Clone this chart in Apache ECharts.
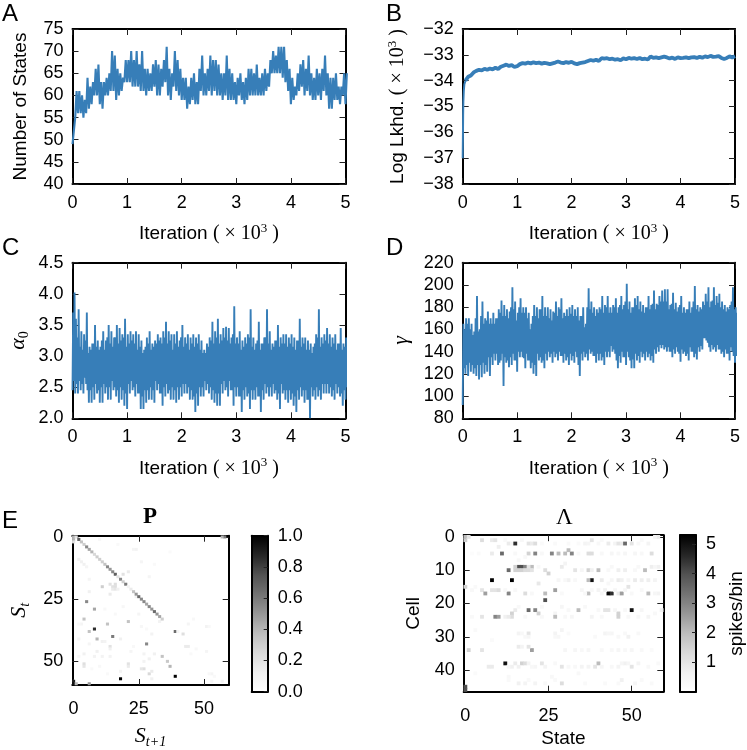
<!DOCTYPE html>
<html>
<head>
<meta charset="utf-8">
<style>
    html, body { margin: 0; padding: 0; background: #fff; }
    #chart { width: 747px; height: 750px; }
</style>
<script src="https://cdn.jsdelivr.net/npm/echarts@6/dist/echarts.min.js"></script>
</head>
<body>
<div id="chart"></div>
<script>
// traces are read as upper / lower edge of the band, one pair every 50 iterations
var traceStep = 0.05;

var statesHigh = [52,61,61,60,59,64,62,63,66,67,63,63,64,65,70,69,66,65,64,68,68,70,68,70,67,70,66,66,65,67,68,67,66,68,71,66,65,70,68,66,64,64,62,64,65,63,66,69,65,66,69,68,68,67,65,65,69,66,65,63,64,65,63,64,66,66,65,67,64,65,66,65,68,70,69,71,71,71,68,66,64,62,65,67,68,66,69,65,64,66,65,66,69,65,64,64,65,62,62,65,65];
var statesLow = [49,55,56,56,55,56,57,58,60,60,58,57,60,60,61,61,59,60,61,63,63,63,62,62,62,61,61,60,61,61,62,60,60,62,63,60,59,62,61,60,59,59,57,58,59,58,58,61,60,60,61,60,61,60,60,59,60,59,59,59,58,60,59,58,59,60,60,60,60,60,60,61,62,65,65,65,65,64,63,61,58,59,60,61,62,60,61,60,59,59,60,59,61,60,57,57,59,59,58,60,58];

var lkhdStartIter = [0, 0.004, 0.008, 0.012, 0.02, 0.03, 0.05];
var lkhdStart = [-37.0, -36.2, -35.3, -34.8, -34.4, -34.15, -34.0];
var lkhdTrace = [-34.0,-33.85,-33.8,-33.68,-33.62,-33.58,-33.6,-33.54,-33.58,-33.53,-33.56,-33.5,-33.55,-33.46,-33.42,-33.38,-33.43,-33.4,-33.47,-33.44,-33.36,-33.32,-33.34,-33.3,-33.33,-33.29,-33.32,-33.3,-33.34,-33.31,-33.33,-33.36,-33.33,-33.3,-33.26,-33.3,-33.32,-33.28,-33.31,-33.27,-33.33,-33.36,-33.32,-33.3,-33.28,-33.24,-33.2,-33.23,-33.19,-33.24,-33.13,-33.15,-33.13,-33.17,-33.15,-33.19,-33.17,-33.21,-33.14,-33.17,-33.12,-33.15,-33.13,-33.16,-33.12,-33.17,-33.15,-33.18,-33.06,-33.12,-33.1,-33.13,-33.1,-33.07,-33.1,-33.14,-33.11,-33.16,-33.1,-33.13,-33.12,-33.1,-33.13,-33.1,-33.09,-33.12,-33.08,-33.11,-33.06,-33.09,-33.04,-33.08,-33.07,-33.05,-33.12,-33.16,-33.12,-33.06,-33.1,-33.05];

// alpha and gamma are denser: a second pair of readings sits between each pair
var alphaHigh = [3.7,3.6,3.75,3.4,3.35,3.7,3.15,3.2,3.5,3.25,3.15,3.4,3.25,3.5,3.4,3.3,3.5,3.45,3.35,3.6,3.35,3.4,3.35,3.4,3.35,3.25,3.1,3.3,3.4,3.2,3.25,3.35,3.3,3.4,3.55,3.4,3.35,3.35,3.4,3.25,3.5,3.3,3.35,3.3,3.35,3.3,3.35,3.25,3.1,3.2,3.3,3.55,3.4,3.6,3.35,3.45,3.47,3.45,3.3,3.8,3.3,3.4,3.25,3.3,3.35,3.75,3.3,3.2,3.55,3.2,3.3,3.75,3.4,3.2,3.25,3.5,3.3,3.35,3.35,3.3,3.35,3.3,3.25,3.6,3.3,3.3,3.25,3.2,3.15,3.35,3.75,3.3,3.35,3.45,3.35,3.3,3.35,3.2,3.45,3.2,3.3];
var alphaLow = [2.45,2.4,2.4,2.45,2.4,2.55,2.25,2.25,2.3,2.4,2.25,2.25,2.4,2.3,2.3,2.45,2.35,2.25,2.3,2.2,2.15,2.4,2.45,2.35,2.4,2.15,2.15,2.25,2.3,2.3,2.25,2.45,2.4,2.2,2.35,2.4,2.3,2.3,2.25,2.3,2.35,2.4,2.4,2.3,2.3,2.1,2.2,2.35,2.35,2.45,2.4,2.3,2.25,2.2,2.2,2.4,2.45,2.35,2.45,2.2,2.35,2.35,2.1,2.3,2.35,2.15,2.3,2.3,2.35,2.1,2.3,2.4,2.35,2.35,2.4,2.3,2.15,2.4,2.3,2.25,2.3,2.2,2.1,2.3,2.35,2.25,2.3,2.0,2.35,2.3,2.35,2.3,2.4,2.4,2.4,2.35,2.3,2.4,2.35,2.2,2.3];
var alphaMidHigh = [4.02,3.3,3.15,3.1,3.25,3.05,3.1,3.2,3.15,3.1,3.25,3.1,3.3,3.2,3.15,3.3,3.2,3.25,3.3,3.15,3.2,3.25,3.2,3.1,3.15,3.05,3.15,3.2,3.1,3.15,3.2,3.25,3.2,3.3,3.2,3.25,3.1,3.2,3.15,3.3,3.15,3.2,3.1,3.2,3.15,3.2,3.1,3.05,3.05,3.15,3.25,3.2,3.3,3.2,3.25,3.3,3.25,3.2,3.35,3.2,3.2,3.1,3.15,3.2,3.3,3.15,3.1,3.25,3.1,3.2,3.3,3.2,3.1,3.15,3.25,3.15,3.2,3.2,3.15,3.2,3.15,3.1,3.25,3.15,3.2,3.1,3.1,3.05,3.2,3.3,3.15,3.2,3.25,3.2,3.15,3.2,3.1,3.2,3.1,3.15,3.2];
var alphaMidLow = [2.6,2.55,2.6,2.55,2.65,2.45,2.45,2.5,2.55,2.45,2.5,2.55,2.5,2.5,2.6,2.5,2.45,2.5,2.45,2.4,2.55,2.6,2.5,2.55,2.4,2.35,2.45,2.45,2.5,2.45,2.6,2.55,2.4,2.5,2.55,2.45,2.5,2.45,2.5,2.5,2.55,2.55,2.5,2.45,2.35,2.4,2.5,2.5,2.6,2.55,2.5,2.45,2.4,2.4,2.55,2.6,2.5,2.6,2.45,2.5,2.5,2.35,2.45,2.5,2.4,2.45,2.45,2.5,2.35,2.45,2.55,2.5,2.5,2.55,2.45,2.4,2.55,2.45,2.45,2.45,2.4,2.35,2.45,2.5,2.45,2.45,2.3,2.5,2.45,2.5,2.45,2.55,2.55,2.55,2.5,2.45,2.55,2.5,2.4,2.45,2.5];

var gammaHigh = [165,170,170,165,158,190,160,185,170,176,170,175,170,178,186,182,178,176,198,185,175,188,180,180,175,165,182,180,178,190,180,180,178,176,185,180,188,175,178,180,182,178,180,172,180,165,197,185,180,178,180,190,182,190,180,182,188,180,190,182,201,185,180,188,190,185,182,180,190,182,195,183,190,195,196,196,182,193,184,180,190,180,178,185,180,199,182,180,185,192,198,185,198,190,192,185,182,180,182,198,180];
var gammaLow = [92,120,118,122,120,118,115,117,120,122,118,128,132,128,132,109,130,126,128,132,122,135,135,125,132,125,120,118,132,130,125,132,135,130,135,132,136,130,132,128,132,130,135,118,132,135,132,138,136,130,132,132,128,135,135,140,138,125,130,135,128,135,125,125,132,130,135,132,135,132,130,138,140,143,142,140,140,135,138,140,131,138,136,132,140,135,133,140,142,152,148,140,142,140,142,138,135,138,132,140,130];
var gammaMidHigh = [160,165,160,155,170,158,172,165,168,165,165,165,170,175,172,172,170,180,178,168,180,175,175,170,160,172,172,170,178,172,172,170,168,175,172,178,170,172,172,174,172,172,168,172,162,180,178,175,172,175,178,175,180,175,175,180,175,182,178,185,178,175,180,182,178,176,175,180,178,183,178,182,185,185,185,178,183,178,176,182,175,175,178,175,185,178,176,178,182,185,180,186,182,184,180,178,176,178,185,178,175];
var gammaMidLow = [125,128,130,128,125,128,128,130,128,135,135,138,138,130,138,135,132,135,138,132,140,140,134,138,132,130,128,138,135,132,138,140,138,140,138,140,136,138,135,138,136,140,128,138,140,138,142,140,136,138,138,135,140,140,145,142,132,136,140,135,140,132,133,138,136,140,138,140,138,136,142,144,146,146,144,144,140,142,144,138,142,140,138,144,140,138,144,145,152,150,144,146,144,146,142,140,142,138,144,136,136];

// transition matrix: the diagonal band, given per column starting at state 2, then loose cells [col, row, value]
var transBand = [0.7,0.35,0.3,0.55,0.45,0.4,0.25,0.3,0.3,0.3,0.35,0.55,0.5,0.55,0.7,0.2,0.55,0.3,0.6,0.1,0.15,0.35,0.5,0.65,0.55,0.55,0.45,0.55,0.5,0.65,0.5,0.45,0.3];
var transCells = [[0,0,0.4],[0,1,0.4],[1,0,0.2],[0,2,0.2],[58,0,0.6],[57,0,0.4],[0,58,0.9],[0,59,0.95],[1,59,0.4],[5,26,0.55],[8,29,0.45],[4,33,0.35],[8,37,0.85],[6,38,0.35],[13,35,0.35],[21,34,0.35],[9,41,0.4],[15,40,0.6],[11,42,0.12],[12,42,0.1],[28,43,0.55],[39,38,0.65],[42,39,0.22],[40,38,0.08],[34,48,0.35],[36,50,0.32],[37,52,0.4],[39,56,1.0],[18,57,1.0],[6,59,0.5],[29,55,0.25],[27,53,0.22],[26,53,0.18],[21,51,0.2],[21,52,0.15],[18,54,0.1],[4,47,0.12],[4,51,0.22],[4,52,0.18],[14,44,0.2],[14,45,0.12],[18,41,0.12],[9,46,0.12],[8,48,0.1],[11,48,0.1],[14,48,0.1],[16,19,0.22],[15,20,0.2],[16,20,0.22],[15,21,0.15],[16,21,0.18],[17,21,0.12],[11,20,0.3],[14,19,0.2],[6,22,0.12],[14,23,0.15],[21,14,0.15],[19,15,0.2],[24,5,0.1],[23,5,0.08],[26,10,0.08],[29,16,0.08],[2,9,0.12],[3,10,0.12],[4,11,0.12],[5,12,0.08],[6,17,0.08],[3,35,0.08],[2,35,0.06],[43,44,0.15],[44,44,0.15],[51,36,0.1],[52,36,0.06],[47,45,0.06],[51,46,0.08],[57,58,0.1],[53,58,0.08],[53,55,0.08],[10,1,0.06],[17,3,0.05],[31,11,0.05],[37,6,0.04],[24,24,0.1],[19,28,0.07],[25,31,0.08],[16,31,0.06],[12,29,0.06],[30,39,0.1],[31,47,0.12],[27,47,0.1],[29,49,0.12],[27,50,0.1],[30,54,0.15],[30,57,0.12],[52,55,0.06],[54,56,0.05],[46,33,0.06],[44,35,0.08],[33,34,0.1],[26,36,0.07],[23,44,0.06],[22,46,0.08],[28,37,0.05],[45,47,0.05],[2,41,0.08],[2,48,0.07],[6,43,0.08],[7,53,0.05],[13,55,0.05],[10,52,0.06]];

// rates: loose cells [state, cell, value]
var rateCells = [[0,0,2],[0,1,1.6],[0,45,4],[0,46,4],[0,15,1.5],[1,0,1],[5,1,1.2],[8,1,0.8],[9,1,1],[13,2,0.8],[14,2,0.4],[15,2,4.5],[19,2,1],[20,2,0.8],[21,2,1.2],[10,3,0.7],[36,2,0.5],[37,2,0.4],[38,1,1],[43,2,0.8],[45,2,0.5],[46,2,1],[47,2,0.8],[48,2,3.5],[50,2,1],[58,0,0.8],[57,0,0.5],[55,2,0.5],[8,5,0.8],[11,5,3.5],[19,5,1.5],[21,5,3],[26,5,3],[28,5,2],[30,5,2],[32,5,3],[31,4,2],[37,5,1.2],[38,5,1.2],[56,5,1.2],[44,5,0.4],[48,5,0.4],[51,5,0.4],[16,9,4],[17,9,4],[18,9,3],[20,9,2],[15,9,1.5],[19,9,1],[13,10,3.5],[15,10,1.5],[16,10,1.5],[17,10,1.5],[18,10,1.2],[19,10,1.2],[20,10,1],[24,10,1.2],[25,11,1.5],[29,9,0.8],[33,10,1],[37,10,1.5],[38,10,0.6],[40,10,2],[46,10,0.7],[48,10,0.7],[54,10,2],[56,9,0.7],[58,9,0.6],[8,13,5.5],[14,13,5.5],[38,13,5],[37,13,2],[28,13,0.4],[31,13,0.6],[41,13,0.8],[46,13,0.8],[47,13,0.6],[51,13,0.8],[53,13,0.7],[55,13,0.7],[57,13,0.5],[22,14,0.9],[49,15,1],[5,16,1],[8,16,1],[9,16,1],[10,16,1.2],[27,16,2.5],[40,16,0.5],[6,17,2.5],[13,17,3],[18,17,1.2],[24,17,2],[37,17,2],[35,16,0.4],[43,17,5.2],[44,17,4.5],[42,16,0.6],[46,17,0.8],[47,17,2.5],[55,17,2],[58,17,0.5],[24,19,4],[19,22,3.5],[21,22,3],[34,22,2],[50,22,5],[42,22,1],[43,22,1],[15,22,0.8],[22,23,1.5],[14,23,1.5],[46,23,1.5],[59,22,0.6],[27,23,0.5],[9,24,3],[10,24,2.5],[5,24,1],[14,24,1.2],[12,24,0.6],[13,24,0.8],[27,24,2],[46,24,1.5],[55,24,0.5],[32,24,0.4],[38,24,0.5],[19,29,1],[16,29,0.5],[27,29,0.5],[29,28,0.5],[42,29,0.5],[44,29,0.4],[49,30,0.6],[19,30,0.4],[1,34,1.5],[5,34,1],[20,34,2.5],[16,33,0.8],[17,33,0.5],[19,33,1],[30,34,0.4],[33,34,0.4],[37,34,0.4],[46,34,0.4],[50,34,0.4],[12,38,5],[15,38,0.8],[17,38,1.5],[18,38,1.2],[23,38,1],[40,38,2],[7,39,0.8],[8,39,0.8],[14,39,0.6],[16,39,0.6],[21,39,0.4],[29,39,1],[24,39,0.5],[35,39,0.5],[37,39,0.5],[39,39,1],[46,39,0.5],[50,39,1],[48,38,0.6],[52,38,0.5],[16,44,0.6],[18,44,0.5],[21,44,0.5],[29,44,1.2],[47,43,0.6],[51,44,0.4],[13,42,0.3],[26,42,0.3],[34,41,0.3]];
var rateFaint = [[12,1,0.25],[17,1,0.3],[23,2,0.2],[27,2,0.25],[31,2,0.25],[34,2,0.2],[40,2,0.3],[41,1,0.25],[52,2,0.3],[53,1,0.25],[4,5,0.2],[2,5,0.15],[15,5,0.3],[23,5,0.3],[34,5,0.25],[41,5,0.3],[46,5,0.3],[53,5,0.3],[16,7,0.3],[18,6,0.3],[22,9,0.3],[30,8,0.5],[35,10,0.4],[43,10,0.3],[44,9,0.3],[51,10,0.3],[52,9,0.3],[57,9,0.4],[30,13,0.3],[33,13,0.3],[43,14,0.3],[44,13,0.4],[49,13,0.4],[2,16,0.3],[3,15,0.25],[12,16,0.3],[15,16,0.3],[20,17,0.3],[29,17,0.25],[36,17,0.3],[38,16,0.3],[41,17,0.4],[45,16,0.4],[48,16,0.4],[50,17,0.3],[53,16,0.3],[57,17,0.4],[16,21,0.3],[23,21,0.3],[29,21,0.4],[31,22,0.3],[36,21,0.3],[40,22,0.3],[45,22,0.4],[48,22,0.3],[53,22,0.4],[57,23,0.3],[2,24,0.25],[18,24,0.3],[23,24,0.3],[30,24,0.3],[41,24,0.3],[49,24,0.3],[52,24,0.3],[3,28,0.25],[17,29,0.3],[18,30,0.3],[28,30,0.35],[31,29,0.2],[39,30,0.25],[43,29,0.35],[46,30,0.3],[48,29,0.3],[52,29,0.3],[8,31,0.2],[27,30,0.3],[35,34,0.3],[41,34,0.3],[44,34,0.3],[48,34,0.3],[53,34,0.3],[56,34,0.2],[19,38,0.5],[13,39,0.4],[20,39,0.3],[27,38,0.3],[31,39,0.3],[33,39,0.3],[41,39,0.4],[44,39,0.3],[47,38,0.4],[49,38,0.4],[55,39,0.3],[58,38,0.25],[3,41,0.2],[13,43,0.25],[19,43,0.25],[24,44,0.3],[27,43,0.25],[36,44,0.25],[42,44,0.25],[46,44,0.25],[53,43,0.25],[56,44,0.25]];

var iterTicks = 5;

var chart = echarts.init(document.getElementById("chart"), null, { renderer: "canvas" });

var sans = "Liberation Sans";
var serif = "Liberation Serif";
var ink = "#000";
var lineBlue = "#377eb8";
var greys = ["#ffffff", "#f0f0f0", "#d9d9d9", "#bdbdbd", "#969696", "#737373", "#525252", "#252525", "#000000"];

var option = {
    animation: false,
    backgroundColor: "#fff",
    title: [],
    grid: [],
    xAxis: [],
    yAxis: [],
    series: [],
    visualMap: []
};

var richText = {
    it: { fontFamily: sans, fontSize: 19, color: ink },
    m: { fontFamily: serif, fontSize: 20, color: ink },
    mi: { fontFamily: serif, fontStyle: "italic", fontSize: 22, color: ink },
    sup: { fontFamily: serif, fontSize: 13, color: ink, verticalAlign: "top", lineHeight: 24 },
    sub: { fontFamily: serif, fontSize: 14, color: ink, verticalAlign: "bottom", lineHeight: 26 },
    subi: { fontFamily: serif, fontStyle: "italic", fontSize: 14, color: ink, verticalAlign: "bottom", lineHeight: 26 }
};

function spine(extra) {
    var axis = {
        axisLine: { show: true, onZero: false, lineStyle: { color: ink, width: 2 } },
        axisTick: { show: true, inside: true, length: 6, lineStyle: { color: "#222", width: 1 } },
        axisLabel: { show: true, color: ink, fontFamily: sans, fontSize: 18, margin: 9 },
        splitLine: { show: false },
        nameTextStyle: { color: ink, fontFamily: sans, fontSize: 19, rich: richText },
        nameLocation: "middle"
    };
    for (var k in extra) {
        axis[k] = extra[k];
    }
    return axis;
}

function label(text, left, top, font) {
    option.title.push({
        text: text,
        left: left,
        top: top,
        padding: 0,
        textStyle: { color: ink, fontFamily: font.family, fontSize: font.size, fontWeight: font.weight || "normal" }
    });
}

// grid with a full box: main axes plus bare copies on the far sides
function addGrid(box, x, y) {
    var g = option.grid.length;
    option.grid.push({ left: box[0], top: box[1], width: box[2] - box[0], height: box[3] - box[1] });
    var xMain = option.xAxis.length;
    var yMain = option.yAxis.length;
    option.xAxis.push(spine(Object.assign({ gridIndex: g, position: "bottom" }, x)));
    option.xAxis.push(spine(Object.assign({}, x, { gridIndex: g, position: "top", name: "", axisLabel: { show: false } })));
    option.yAxis.push(spine(Object.assign({ gridIndex: g, position: "left" }, y)));
    option.yAxis.push(spine(Object.assign({}, y, { gridIndex: g, position: "right", name: "", axisLabel: { show: false } })));
    return { x: xMain, y: yMain };
}

function zigzag(high, low) {
    var out = [];
    for (var i = 0; i < high.length; i++) {
        out.push([i * traceStep, low[i]]);
        out.push([i * traceStep + traceStep / 2, high[i]]);
    }
    return out;
}

function denseZigzag(high, low, midHigh, midLow) {
    var out = [];
    for (var i = 0; i < high.length; i++) {
        out.push([i * traceStep, low[i]]);
        out.push([i * traceStep + traceStep / 4, high[i]]);
        out.push([i * traceStep + traceStep / 2, midLow[i]]);
        out.push([i * traceStep + traceStep * 3 / 4, midHigh[i]]);
    }
    return out;
}

function iterAxis(nameGap, margin) {
    return {
        type: "value", min: 0, max: iterTicks, interval: 1,
        axisLabel: { show: true, color: ink, fontFamily: sans, fontSize: 18, margin: margin },
        name: "{it|Iteration} {m|( × 10}{sup|3}{m| )}",
        nameGap: nameGap
    };
}

function traceLine(a, points, width) {
    option.series.push({
        type: "line",
        xAxisIndex: a.x,
        yAxisIndex: a.y,
        data: points,
        showSymbol: false,
        symbol: "none",
        sampling: null,
        clip: true,
        silent: true,
        lineStyle: { color: lineBlue, width: width }
    });
}

function addTrace(box, y, points, width) {
    var a = addGrid(box, iterAxis(38, 10), y);
    traceLine(a, points, width);
    return a;
}

function minus(v) {
    return String(v).replace("-", "\u2212");
}

addTrace([72.5, 29, 345.5, 184], {
    type: "value", min: 40, max: 75, interval: 5,
    name: "Number of States", nameGap: 42, nameRotate: 90
}, zigzag(statesHigh, statesLow), 2.1);

var lkhdBurnIn = lkhdStart.map(function(v, i) {
    return [lkhdStartIter[i], v];
});
var lkhdPoints = lkhdTrace.map(function(v, i) {
    return [(i + 1) * traceStep, v];
});
var lkhdAxes = addTrace([462.7, 29, 735, 184], {
    type: "value", min: -38, max: -32, interval: 1,
    axisLabel: { color: ink, fontFamily: sans, fontSize: 18, margin: 9, formatter: minus },
    name: "{it|Log Lkhd.} {m|( × 10}{sup|3}{m| )}", nameGap: 53, nameRotate: 90
}, lkhdPoints, 3.8);
traceLine(lkhdAxes, lkhdBurnIn, 2);

addTrace([72.5, 262.7, 345.5, 418.3], {
    type: "value", min: 2, max: 4.5, interval: 0.5,
    axisLabel: { color: ink, fontFamily: sans, fontSize: 18, margin: 9, formatter: function(v) { return v.toFixed(1); } },
    name: "{mi|α}{sub|0}", nameGap: 41, nameRotate: 90
}, denseZigzag(alphaHigh, alphaLow, alphaMidHigh, alphaMidLow), 1.9);

addTrace([462.7, 262.7, 735, 418.3], {
    type: "value", min: 80, max: 220, interval: 20,
    name: "{mi|γ}", nameGap: 50, nameRotate: 90
}, denseZigzag(gammaHigh, gammaLow, gammaMidHigh, gammaMidLow), 1.9);

function indexList(n) {
    var out = [];
    for (var i = 0; i < n; i++) {
        out.push(String(i));
    }
    return out;
}

function everyNth(n) {
    return function(i) {
        return i % n === 0;
    };
}

function catAxis(n, step, extra, margin) {
    var axis = {
        type: "category",
        data: indexList(n),
        boundaryGap: true,
        axisTick: { show: true, inside: true, length: 6, alignWithLabel: true, interval: everyNth(step), lineStyle: { color: "#222", width: 1 } },
        axisLabel: { show: true, color: ink, fontFamily: sans, fontSize: 18, margin: margin, interval: everyNth(step) }
    };
    return Object.assign(axis, extra);
}

function addHeat(box, x, y, cells, range, barBox, barAxis) {
    var a = addGrid(box, x, y);
    var seriesIndex = option.series.length;
    option.series.push({
        type: "heatmap",
        xAxisIndex: a.x,
        yAxisIndex: a.y,
        data: cells,
        silent: true,
        progressive: 0,
        itemStyle: { borderWidth: 0 }
    });
    option.visualMap.push({
        type: "continuous",
        seriesIndex: seriesIndex,
        min: range[0],
        max: range[1],
        inRange: { color: greys },
        left: barBox[0],
        top: barBox[1],
        itemWidth: barBox[2] - barBox[0],
        itemHeight: barBox[3] - barBox[1],
        padding: 0,
        calculable: false,
        hoverLink: false,
        text: null
    });
    // colorbar frame sits over the visualMap ramp
    addGrid(barBox, {
        type: "value", min: 0, max: 1, z: 10,
        axisTick: { show: false }, axisLabel: { show: false }
    }, Object.assign({ type: "value", z: 10 }, barAxis));
    var lastY = option.yAxis.length - 2;
    option.yAxis[lastY].position = "right";
    option.yAxis[lastY].axisTick = { show: true, inside: true, length: 4, lineStyle: { color: "#222", width: 1 } };
    option.yAxis[lastY + 1].position = "left";
    option.yAxis[lastY + 1].axisTick = { show: false };
}

var transData = transCells.slice();
transBand.forEach(function(v, i) {
    transData.push([i + 2, i + 1, v]);
});

addHeat([72.3, 535.7, 228.7, 691.7],
    catAxis(60, 25, { name: "{mi|S}{subi|t+1}", nameGap: 38 }, 15),
    catAxis(60, 25, { inverse: true, name: "{mi|S}{subi|t}", nameGap: 40, nameRotate: 90 }, 9),
    transData, [0, 1],
    [251.7, 535.7, 267.7, 691.7],
    {
        min: 0, max: 1, interval: 0.2,
        axisLabel: { color: ink, fontFamily: sans, fontSize: 18, margin: 10, formatter: function(v) { return v.toFixed(1); } }
    });

addHeat([463.7, 535.2, 663.3, 691.7],
    catAxis(60, 25, { name: "State", nameGap: 38 }, 15),
    catAxis(47, 10, { inverse: true, name: "Cell", nameGap: 40, nameRotate: 90 }, 9),
    rateCells.concat(rateFaint), [0, 5.3],
    [680, 535.2, 696.7, 691.7],
    {
        min: 0, max: 5.3, interval: 1,
        axisLabel: { color: ink, fontFamily: sans, fontSize: 18, margin: 10, showMinLabel: false, showMaxLabel: false },
        name: "spikes/bin", nameGap: 31, nameRotate: 90
    });

var letter = { family: sans, size: 24 };
label("A", 2, 2, letter);
label("B", 386, 2, letter);
label("C", 2, 236, letter);
label("D", 386, 236, letter);
label("E", 2, 509, letter);
label("P", 143, 506, { family: serif, size: 23, weight: "bold" });
label("\u039b", 556, 506, { family: serif, size: 23 });

chart.setOption(option);
</script>
</body>
</html>
